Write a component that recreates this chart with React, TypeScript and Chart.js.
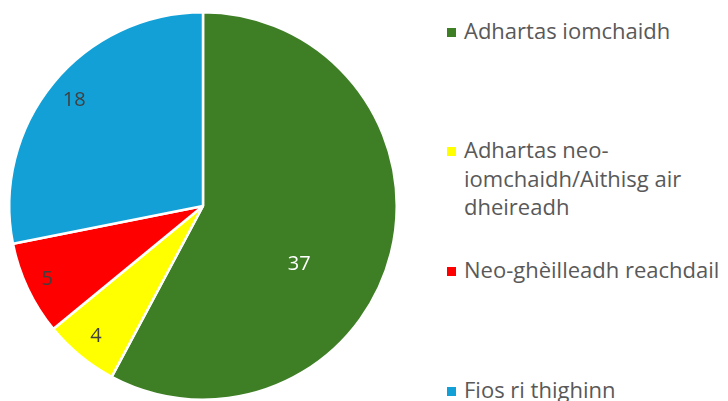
import React, { useEffect, useRef } from "react";
import { Chart, registerables } from "chart.js";

Chart.register(...registerables);

const categories = [
  "Adhartas iomchaidh",
  "Adhartas neo-iomchaidh/Aithisg air dheireadh",
  "Neo-ghèilleadh reachdail",
  "Fios ri thighinn",
];
const values = [37, 4, 5, 18];
const colors = ["#3E7F26", "#FFFF00", "#FF0000", "#12A0D7"];
const labelColors = ["#FFFFFF", "#404040", "#404040", "#404040"];

const FONT = "'Open Sans', sans-serif";

const labelPlugin = {
  id: "sliceLabels",
  afterDatasetsDraw(chart: any, _args: any, opts: any) {
    const ctx = chart.ctx;
    const meta = chart.getDatasetMeta(0);
    const data = chart.data.datasets[0].data;
    ctx.save();
    ctx.font = `${opts.size}px ${FONT}`;
    ctx.textAlign = "center";
    ctx.textBaseline = "middle";
    meta.data.forEach((arc: any, i: number) => {
      const p = arc.getProps(["x", "y", "startAngle", "endAngle", "outerRadius"], true);
      const a = (p.startAngle + p.endAngle) / 2 + (opts.shift[i] * Math.PI) / 180;
      const r = p.outerRadius * opts.radius[i];
      ctx.fillStyle = labelColors[i];
      ctx.fillText(String(data[i]), p.x + Math.cos(a) * r, p.y + Math.sin(a) * r);
    });
    ctx.restore();
  },
};

const legendTops = [16, 135, 255, 375];

export default function App() {
  const ref = useRef<HTMLCanvasElement | null>(null);
  useEffect(() => {
    if (!ref.current) return;
    const chart = new Chart(ref.current, {
      type: "pie",
      data: {
        labels: categories,
        datasets: [
          {
            data: values,
            backgroundColor: colors,
            borderColor: "#FFFFFF",
            borderWidth: 2.5,
          },
        ],
      },
      options: {
        responsive: false,
        animation: false,
        layout: { padding: { top: 11, bottom: 0, left: 8, right: 8 } },
        plugins: {
          legend: { display: false },
          tooltip: { enabled: false },
          sliceLabels: { size: 20, radius: [0.58, 0.87, 0.89, 0.86], shift: [17, 0, 0, 0] },
        } as any,
      },
      plugins: [labelPlugin],
    });
    return () => chart.destroy();
  }, []);

  return (
    <div
      style={{
        position: "fixed",
        left: 0,
        top: 0,
        width: 728,
        height: 401,
        background: "#FFFFFF",
        overflow: "hidden",
        fontFamily: FONT,
      }}
    >
      <canvas ref={ref} width={406} height={401} style={{ position: "absolute", left: 0, top: 0 }} />
      {categories.map((c, i) => (
        <div
          key={c}
          style={{
            position: "absolute",
            left: 447,
            top: legendTops[i],
            width: 281,
            display: "flex",
            alignItems: "flex-start",
          }}
        >
          <div
            style={{
              width: 9,
              height: 9,
              background: colors[i],
              marginTop: 12,
              marginRight: 8,
              flex: "none",
            }}
          />
          <div style={{ fontSize: 22, lineHeight: "28.5px", color: "#595959", width: 266 }}>{c}</div>
        </div>
      ))}
    </div>
  );
}
